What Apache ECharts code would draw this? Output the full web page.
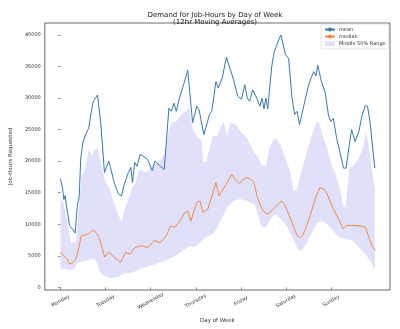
<!DOCTYPE html>
<html>
<head>
<meta charset="utf-8">
<script src="https://cdn.jsdelivr.net/npm/echarts@6/dist/echarts.min.js"></script>
<style>html,body{margin:0;padding:0;background:#fff}#c{width:400px;height:329px}</style>
</head>
<body>
<div id="c"></div>
<script>
var dayNames = ['Monday','Tuesday','Wednesday','Thursday','Friday','Saturday','Sunday'];
var dayTickHours = [0,24,48,72,96,120,144];
var yTickValues = [0,5000,10000,15000,20000,25000,30000,35000,40000];

var meanHours = [0,1.0,1.8,2.5,3.1,4.8,6.5,7.8,9.0,9.9,10.8,11.9,13.3,15.0,16.7,17.5,19.7,21.4,23.4,25.7,28.6,30.8,32.5,33.7,36.1,37.4,38.3,39.5,40.7,42.4,44.0,46.3,48.8,50.2,53.1,55.2,57.7,59.0,60.4,61.6,63.3,65.5,67.7,68.6,70.3,72.5,73.7,74.7,76.3,79.3,80.5,82.7,83.9,86.1,88.3,90.4,92.1,94.3,96.3,97.2,98.1,99.4,100.6,102.3,104.4,106.1,107.2,108.3,109.3,110.3,111.2,112.4,113.7,114.7,116.5,117.3,119.7,121.4,123.1,124.6,125.9,127.2,129.4,131.9,133.6,134.8,135.9,136.9,138.6,140.9,142.6,143.8,145.2,146.9,148.6,150.6,152.0,153.7,154.9,156.8,158.8,160.5,162.2,163.4,164.7,166.5,167.3];
var meanValues = [17200,15800,13900,14600,13100,9800,9200,8600,13100,14200,20500,22900,24200,25200,28400,29500,30500,26100,18200,20000,16600,14800,14500,16100,18200,19000,16600,19800,19200,21100,20800,20300,18500,20000,19200,18700,28400,27900,29200,27900,30000,32100,34400,34200,26100,28700,28200,28400,24200,27400,27900,32600,31600,33200,36500,34500,32900,30300,29800,30000,32100,30000,29500,31300,30000,28700,30000,28300,30000,28300,28400,35000,37300,37000,39500,40000,36900,36300,30300,27400,27900,25800,28700,31900,33400,34200,33500,35200,32900,30800,27300,26300,26800,23700,21600,18900,18900,22600,25000,23100,24700,27300,28800,28700,26300,21000,18900];

var medianHours = [0,1.8,3.6,4.8,6.5,8.2,9.9,11.0,13.3,15.0,17.2,18.9,20.6,21.8,23.5,25.7,27.7,30.2,31.8,34.5,37.0,39.6,43.0,46.5,49.8,53.3,56.7,58.4,60.9,63.5,66.0,67.7,69.4,71.0,72.7,74.2,75.8,78.4,80.9,82.7,84.4,86.6,88.7,91.2,93.0,95.2,97.2,99.2,101.5,102.9,104.6,106.4,108.0,109.8,112.3,114.9,117.4,119.1,121.7,124.2,125.9,127.7,129.0,131.1,133.6,136.1,138.0,140.2,141.9,144.5,147.0,148.8,150.4,152.2,154.7,157.3,159.9,162.4,164.1,165.8,167.5];
var medianValues = [5600,5000,4500,3700,3900,4500,6400,8200,8300,8500,9100,8700,7900,6600,4800,5600,5000,4400,3900,5500,5300,6300,6600,6300,7400,7100,8400,9700,9500,10500,11800,12100,10500,12100,13500,13700,11900,12400,14800,16600,14500,15600,16600,17900,17100,16400,17100,17400,17100,16600,14500,12900,12100,11600,12100,12900,13700,13200,11400,9500,8200,7900,8300,9800,12100,14500,15800,15600,14800,12900,11400,10300,9300,9800,9800,9800,9700,9500,7900,6600,5800];

var upperHours = [0,1.5,3.9,5.6,8.2,9.9,11.1,12.5,14.1,15.0,16.7,18.4,19.7,20.9,22.6,24.0,26.0,27.7,30.3,32.5,33.7,36.3,38.6,39.6,42.0,45.4,48.8,52.2,55.7,57.4,59.0,61.6,65.0,67.6,68.2,70.3,72.5,75.1,75.9,77.6,79.3,81.0,83.6,85.3,87.0,88.7,90.4,93.2,95.8,99.2,102.6,105.2,106.9,109.4,111.1,112.8,114.5,117.1,119.6,122.2,123.9,125.6,128.2,130.7,133.3,135.9,137.5,139.2,141.8,144.3,146.9,148.6,150.3,151.7,153.7,156.3,158.8,160.9,162.6,163.9,165.6,167.3];
var upperValues = [14000,13500,9800,7100,7100,12900,17700,18200,20300,21900,20800,21900,22100,20300,18200,16600,15800,14000,11900,10300,11900,14200,16100,16300,18700,18200,19200,19800,21300,24500,26100,26300,27600,28200,28900,25000,24000,23200,19800,20000,21900,24000,24000,25500,26100,24000,26100,25800,24700,23700,21600,20500,19400,19200,22100,23100,23700,22600,20500,18400,15300,15300,18400,21000,23700,26000,26300,24400,22100,19400,17400,15800,13100,12600,18900,19400,20500,22100,24700,22600,18900,15500];

var lowerHours = [0,2.2,4.7,7.3,9.0,10.7,14.1,17.5,19.2,20.9,23.5,26.9,30.3,33.7,38.6,43.0,51.6,57.4,62.4,68.4,71.5,76.6,81.9,85.3,88.7,92.1,95.5,98.9,103.1,104.4,106.9,109.4,112.0,114.5,117.1,120.5,123.9,126.4,128.2,130.7,133.3,136.7,139.2,141.8,145.2,148.6,152.0,155.4,158.8,162.2,164.7,167.3];
var lowerValues = [2700,3000,2700,2900,3900,4000,4300,4500,4000,2400,1800,1500,1600,2200,2400,3000,3800,4400,5200,6500,6400,7700,8700,10600,12700,13700,14000,13700,13200,12100,9700,9500,11000,11600,10800,9700,7600,6000,5800,6800,8400,10300,10500,10000,8900,7900,7600,7400,6300,5300,4200,3000];

function zip(a, b) { return a.map(function (v, i) { return [v, b[i]]; }); }

var FONT = 'DejaVu Sans';
var chart = echarts.init(document.getElementById('c'), null, {renderer: 'canvas'});
chart.setOption({
  animation: false,
  backgroundColor: '#fff',
  title: {
    text: 'Demand for Job-Hours by Day of Week\n(12hr Moving Averages)',
    left: 210, top: 6, textAlign: 'center',
    textStyle: {fontFamily: FONT, fontSize: 7, fontWeight: 'normal', color: '#222', lineHeight: 7.5}
  },
  legend: {
    orient: 'vertical', left: 321, top: 24,
    padding: [3, 3, 3, 3], itemGap: 2,
    itemWidth: 10, itemHeight: 5,
    borderColor: '#d0d0d0', borderWidth: 0.6, borderRadius: 2,
    textStyle: {fontFamily: FONT, fontSize: 5, color: '#333', padding: [0, 0, 0, -1]},
    data: [{name: 'mean'}, {name: 'median'}, {name: 'Middle 50% Range', icon: 'rect'}]
  },
  grid: {left: 30, right: 10, top: 23, bottom: 37, show: true, borderColor: '#444', borderWidth: 0.8, containLabel: false},
  xAxis: {
    type: 'value', min: -8.35, max: 175.35,
    name: 'Day of Week', nameLocation: 'middle', nameGap: 28,
    nameTextStyle: {fontFamily: FONT, fontSize: 5.5, color: '#333'},
    splitLine: {show: false},
    axisLine: {show: false},
    axisTick: {show: true, customValues: dayTickHours, length: 2.5, lineStyle: {color: '#444', width: 0.6}},
    axisLabel: {
      customValues: dayTickHours, rotate: 30, align: 'center', verticalAlign: 'middle', margin: 11,
      fontFamily: FONT, fontSize: 5, color: '#333',
      formatter: function (v) { return dayNames[dayTickHours.indexOf(Math.round(v))] || ''; }
    }
  },
  yAxis: {
    type: 'value', min: -420, max: 41900,
    name: 'Job-Hours Requested', nameLocation: 'middle', nameGap: 22,
    nameTextStyle: {fontFamily: FONT, fontSize: 5.5, color: '#333'},
    splitLine: {show: false},
    axisLine: {show: false},
    axisTick: {show: true, customValues: yTickValues, length: 2.5, lineStyle: {color: '#444', width: 0.6}},
    axisLabel: {customValues: yTickValues, margin: 4, fontFamily: FONT, fontSize: 5, color: '#333',
      formatter: function (v) { return String(Math.round(v)); }}
  },
  series: [
    {
      name: 'Middle 50% Range', type: 'custom', z: 1,
      itemStyle: {color: '#e0e0fa'},
      data: [[0, 0]],
      renderItem: function (params, api) {
        var pts = [];
        for (var i = 0; i < upperHours.length; i++) pts.push(api.coord([upperHours[i], upperValues[i]]));
        for (var j = lowerHours.length - 1; j >= 0; j--) pts.push(api.coord([lowerHours[j], lowerValues[j]]));
        return {type: 'polygon', shape: {points: pts}, style: {fill: '#e0e0fa'}};
      }
    },
    {
      name: 'mean', type: 'line', z: 3, symbol: 'none',
      data: zip(meanHours, meanValues),
      itemStyle: {color: '#3a78ad'},
      lineStyle: {color: '#3a78ad', width: 1}
    },
    {
      name: 'median', type: 'line', z: 3, symbol: 'none',
      data: zip(medianHours, medianValues),
      itemStyle: {color: '#f28a4b'},
      lineStyle: {color: '#f28a4b', width: 1}
    }
  ]
});
</script>
</body>
</html>
